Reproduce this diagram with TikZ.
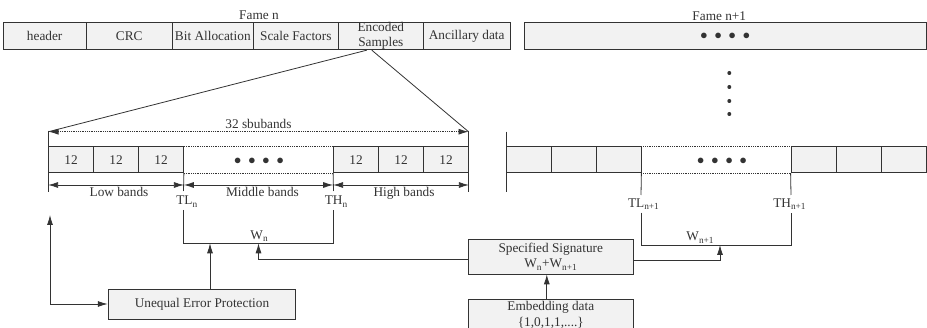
\documentclass[tikz,border=0pt]{standalone}
\usepackage{fontspec}
\setmainfont{Liberation Serif}
\usetikzlibrary{arrows.meta}
\definecolor{cellgray}{RGB}{242,242,242}
\newcommand{\fourdots}{$\bullet$\hspace{7pt}$\bullet$\hspace{7pt}$\bullet$\hspace{7pt}$\bullet$}

\begin{document}
\begin{tikzpicture}[x=1pt,y=-1pt,>={Latex[length=10pt,width=6pt]},color=black!80,line width=0.8pt,
  every node/.style={font=\fontsize{13.3}{15.5}\selectfont,inner sep=0pt},
  cell/.style={draw,fill=cellgray,minimum height=26.6pt},
  sub/.style={draw,fill=cellgray,minimum width=45pt,minimum height=26pt},
  box/.style={draw,fill=cellgray,align=center}]
\useasboundingbox (0,0) rectangle (927,328);

\node (ttln) at (259,15.7) {Fame n};
\node (ttln1) at (719.3,15.7) {Fame n+1};

\node[cell,minimum width=82.7pt] (hdr) at (44.7,36) {header};
\node[cell,minimum width=86.3pt] (crc) at (129.2,36) {CRC};
\node[cell,minimum width=81pt] (bit) at (212.8,36) {Bit Allocation};
\node[cell,minimum width=85pt] (scf) at (295.8,36) {Scale Factors};
\node[cell,minimum width=85pt,align=center] (enc) at (380.8,36) {Encoded\\Samples};
\node[cell,minimum width=86.7pt] (anc) at (466.7,36) {Ancillary data};
\node[cell,minimum width=401.7pt] (nxt) at (725.2,36) {\fourdots};

\foreach \y in {73,87,101,114}
  \fill (729.3,\y) circle (2pt);

\foreach \i in {1,2,3} {
  \node[sub] (l\i) at (26+45*\i,159.7) {12};
  \node[sub] (h\i) at (311+45*\i,159.7) {12};
  \node[sub] (r\i) at (483.5+45*\i,159.7) {};
  \node[sub] (s\i) at (768.5+45*\i,159.7) {};
}
\draw[densely dotted] (l3.north east) -- (h1.north west) (l3.south east) -- (h1.south west);
\draw[densely dotted] (r3.north east) -- (s1.north west) (r3.south east) -- (s1.south west);
\node (lmid) at (259,161) {\fourdots};
\node (rmid) at (722,161) {\fourdots};

\coordinate (sbl) at (48.5,131.7);
\coordinate (sbr) at (468.5,131.7);
\draw ([xshift=-14pt]enc.south) -- (sbl);
\draw ([xshift=-9pt]enc.south) -- (sbr);
\draw[<->,densely dotted] (sbl) -- node[above=2.5pt] {32 sbubands} (sbr);

\draw (48.5,130.7) -- (48.5,191.7);
\draw (468.5,130.7) -- (468.5,191.7);
\draw (506,131.7) -- (506,191.7);
\draw (l3.south east) -- (183.5,191);
\draw (h1.south west) -- (333.5,191);
\draw (r3.south east) -- (641,195);
\draw (s1.south west) -- (791,195);

\coordinate (arr) at (0,185);
\draw[<->] (l1.west |- arr) -- node[below=1.5pt,xshift=3pt] {Low bands} (l3.east |- arr);
\draw[<->] (l3.east |- arr) -- node[below=1.5pt,xshift=4pt] {Middle bands} (h1.west |- arr);
\draw[<->] (h1.west |- arr) -- node[below=1.5pt,xshift=3pt] {High bands} (h3.east |- arr);

\node (tln) at (187,201.7) {TL\textsubscript{n}};
\node (thn) at (336.3,201.7) {TH\textsubscript{n}};
\node (tln1) at (643.7,204) {TL\textsubscript{n+1}};
\node (thn1) at (789.7,204) {TH\textsubscript{n+1}};
\node (wn) at (259.3,236) {W\textsubscript{n}};
\node (wn1) at (700.3,237.7) {W\textsubscript{n+1}};

\draw (183.5,210) |- (333.5,243.3) -- (333.5,210);
\draw (641,212.7) |- (791,245) -- (791,212.7);
\coordinate (wnin) at (258.5,243.3);
\coordinate (wn1in) at (720,245);

\node[box,minimum width=187.7pt,minimum height=30pt] (uep) at (202,304) {Unequal Error Protection};
\node[box,minimum width=165pt,minimum height=35pt] (sig) at (550.8,256.5) {Specified Signature\\W\textsubscript{n}+W\textsubscript{n+1}};
\node[box,minimum width=165pt,minimum height=31.4pt] (emb) at (550.8,315) {Embedding data\\\{1,0,1,1,....\}};

\draw[->] ([xshift=8pt]uep.north) -- ([xshift=8pt]uep.north |- wnin);
\coordinate (fb) at (50,215);
\draw[<->] (fb) |- (uep.west);
\draw[->] ([yshift=-3pt]sig.west) -| (wnin);
\draw[->] ([yshift=-4pt]sig.east) -| (wn1in);
\draw[->] ([xshift=-4pt]emb.north) -- ([xshift=-4pt]sig.south);
\end{tikzpicture}
\end{document}
